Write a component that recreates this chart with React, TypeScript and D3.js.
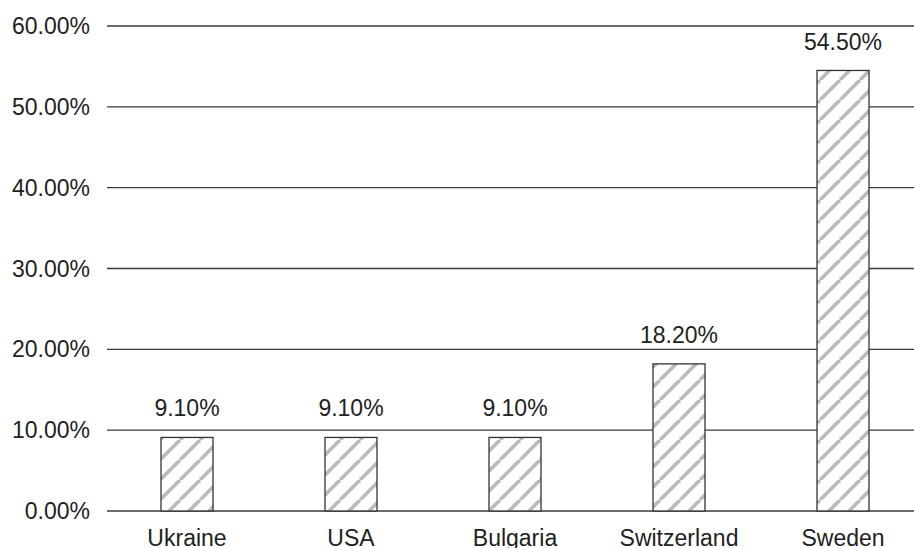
import * as d3 from 'd3'
import { useEffect, useRef } from 'react'

const COUNTRIES = ['Ukraine', 'USA', 'Bulgaria', 'Switzerland', 'Sweden']
const SHARES = [9.1, 9.1, 9.1, 18.2, 54.5]
const TICKS = [0, 10, 20, 30, 40, 50, 60]

const W = 914
const H = 548
const FONT = '"Liberation Sans", Arial, sans-serif'
const FS = 23

export default function App() {
  const ref = useRef<SVGSVGElement | null>(null)

  useEffect(() => {
    const svgEl = ref.current
    if (!svgEl) return
    const svg = d3.select(svgEl)
    svg.selectAll('*').remove()

    const x = d3.scaleBand<string>().domain(COUNTRIES).range([105, 925]).paddingInner(0.683).paddingOuter(0.3415)
    const y = d3.scaleLinear().domain([0, 60]).range([511, 26])

    // diagonal hatch, grey stripes rising to the right
    const T = 20
    const pat = svg
      .append('defs')
      .append('pattern')
      .attr('id', 'hatch')
      .attr('patternUnits', 'userSpaceOnUse')
      .attr('width', T)
      .attr('height', T)
    pat.append('rect').attr('width', T).attr('height', T).attr('fill', '#fff')
    for (const off of [-T, 0, T]) {
      pat
        .append('line')
        .attr('x1', off)
        .attr('y1', T)
        .attr('x2', off + T)
        .attr('y2', 0)
        .attr('stroke', '#bababa')
        .attr('stroke-width', 3.6)
    }

    const gGrid = svg.append('g')
    for (const t of TICKS) {
      gGrid
        .append('line')
        .attr('x1', 107)
        .attr('x2', W)
        .attr('y1', y(t))
        .attr('y2', y(t))
        .attr('stroke', '#3a3a3a')
        .attr('stroke-width', 1.3)
      gGrid
        .append('text')
        .attr('x', 90)
        .attr('y', y(t))
        .attr('dy', '0.35em')
        .attr('text-anchor', 'end')
        .attr('font-family', FONT)
        .attr('font-size', FS)
        .attr('fill', '#222')
        .text(`${t.toFixed(2)}%`)
    }

    const gBars = svg.append('g')
    COUNTRIES.forEach((c, i) => {
      const v = SHARES[i]
      const bx = x(c) ?? 0
      const cx = bx + x.bandwidth() / 2
      gBars
        .append('rect')
        .attr('x', bx)
        .attr('y', y(v))
        .attr('width', x.bandwidth())
        .attr('height', y(0) - y(v))
        .attr('fill', 'url(#hatch)')
        .attr('stroke', '#333')
        .attr('stroke-width', 1.3)
      gBars
        .append('text')
        .attr('x', cx)
        .attr('y', y(v) - 29)
        .attr('dy', '0.35em')
        .attr('text-anchor', 'middle')
        .attr('font-family', FONT)
        .attr('font-size', FS)
        .attr('fill', '#222')
        .text(`${v.toFixed(2)}%`)
      gBars
        .append('text')
        .attr('x', cx)
        .attr('y', 538)
        .attr('dy', '0.35em')
        .attr('text-anchor', 'middle')
        .attr('font-family', FONT)
        .attr('font-size', FS)
        .attr('fill', '#222')
        .text(c)
    })
  }, [])

  return (
    <svg
      ref={ref}
      width={W}
      height={H}
      style={{ position: 'absolute', left: 0, top: 0, background: '#fff' }}
    />
  )
}
